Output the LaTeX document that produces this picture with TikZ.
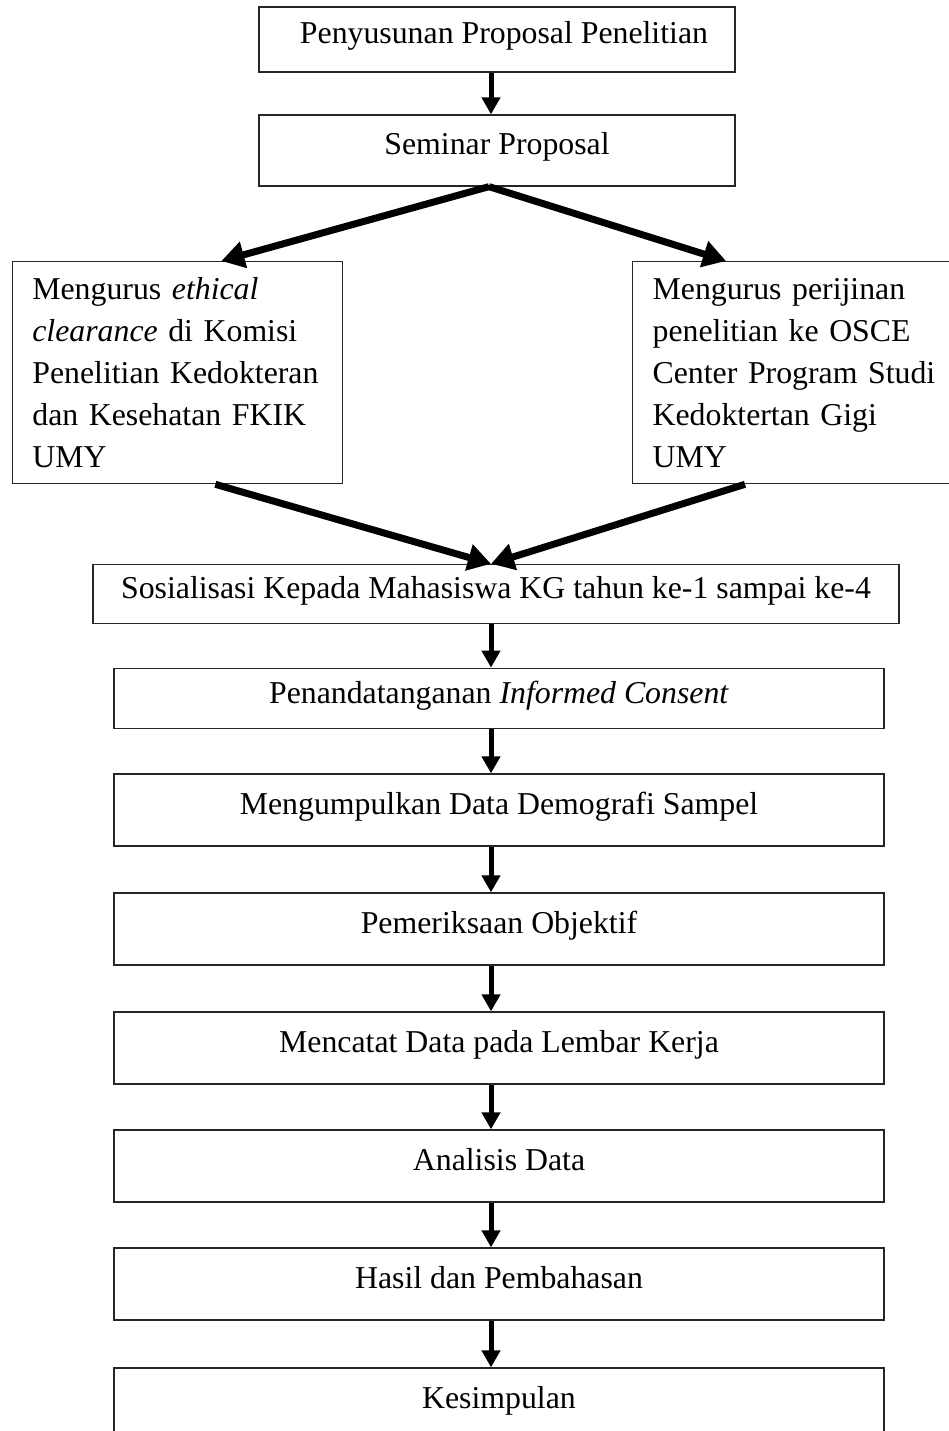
\documentclass[tikz,border=0pt]{standalone}
\usepackage{fontspec}
\setmainfont{Liberation Serif}
\usetikzlibrary{arrows.meta,calc}
\begin{document}
\begin{tikzpicture}[x=1pt,y=-1pt,
  txt/.style={font=\fontsize{31.8pt}{42pt}\selectfont},
  box/.style={txt, draw=black!85, line width=1.3pt, rectangle, inner sep=0pt,
    text height=22pt, text depth=13pt},
  sidebox/.style={txt, draw=black!85, line width=1.3pt, rectangle, inner xsep=20pt,
    inner ysep=0pt, align=left, minimum height=222pt, anchor=north west},
  varrow/.style={line width=5pt, -{Triangle[width=18pt,length=17pt]}},
  darrow/.style={line width=7pt, -{Triangle[width=26pt,length=23pt]}}]
\useasboundingbox (0,0) rectangle (949,1431);
\clip (0,0) rectangle (949,1431);
\fill[white] (0,0) rectangle (949,1431);
\coordinate (axis) at (491,0);
\coordinate (rin) at (726,0);
\coordinate (rout) at (745,0);

\node[box, minimum width=476pt, minimum height=65pt] (b1) at (497,39.5) {\hspace{14pt}Penyusunan Proposal Penelitian};
\node[box, minimum width=476pt, minimum height=71pt] (b2) at (497,150.5) {Seminar Proposal};
\node[sidebox, text width=290pt] (L) at (11.7,261) {Mengurus \textit{ethical}\\ \textit{clearance} di Komisi\\ Penelitian Kedokteran\\ dan Kesehatan FKIK\\ UMY};
\node[sidebox, text width=300pt] (R) at (632,261) {Mengurus perijinan\\ penelitian ke OSCE\\ Center Program Studi\\ Kedoktertan Gigi\\ UMY};
\node[box, minimum width=806pt, minimum height=59pt] (b3) at (496,594) {Sosialisasi Kepada Mahasiswa KG tahun ke-1 sampai ke-4\hspace{16pt}};
\node[box, minimum width=770pt, minimum height=60.5pt] (b4) at (499,698.5) {Penandatanganan \textit{Informed Consent}};
\node[box, minimum width=770pt, minimum height=72pt] (b5) at (499,810) {Mengumpulkan Data Demografi Sampel};
\node[box, minimum width=770pt, minimum height=72pt] (b6) at (499,929) {Pemeriksaan Objektif};
\node[box, minimum width=770pt, minimum height=72pt] (b7) at (499,1048) {Mencatat Data pada Lembar Kerja};
\node[box, minimum width=770pt, minimum height=72pt] (b8) at (499,1166) {Analisis Data};
\node[box, minimum width=770pt, minimum height=72pt] (b9) at (499,1284) {Hasil dan Pembahasan};
\node[box, minimum width=770pt, minimum height=72pt] (b10) at (499,1404) {Kesimpulan};

\draw[varrow] (b1.south -| axis) -- (b2.north -| axis);
\draw[darrow] ([xshift=-8pt]b2.south) -- ([xshift=44pt]L.north);
\draw[darrow] ([xshift=-8pt]b2.south) -- (R.north -| rin);
\draw[darrow] ([xshift=38pt]L.south) -- (b3.north -| axis);
\draw[darrow] (R.south -| rout) -- (b3.north -| axis);
\draw[varrow] (b3.south -| axis) -- (b4.north -| axis);
\draw[varrow] (b4.south -| axis) -- (b5.north -| axis);
\draw[varrow] (b5.south -| axis) -- (b6.north -| axis);
\draw[varrow] (b6.south -| axis) -- (b7.north -| axis);
\draw[varrow] (b7.south -| axis) -- (b8.north -| axis);
\draw[varrow] (b8.south -| axis) -- (b9.north -| axis);
\draw[varrow] (b9.south -| axis) -- (b10.north -| axis);
\end{tikzpicture}
\end{document}
